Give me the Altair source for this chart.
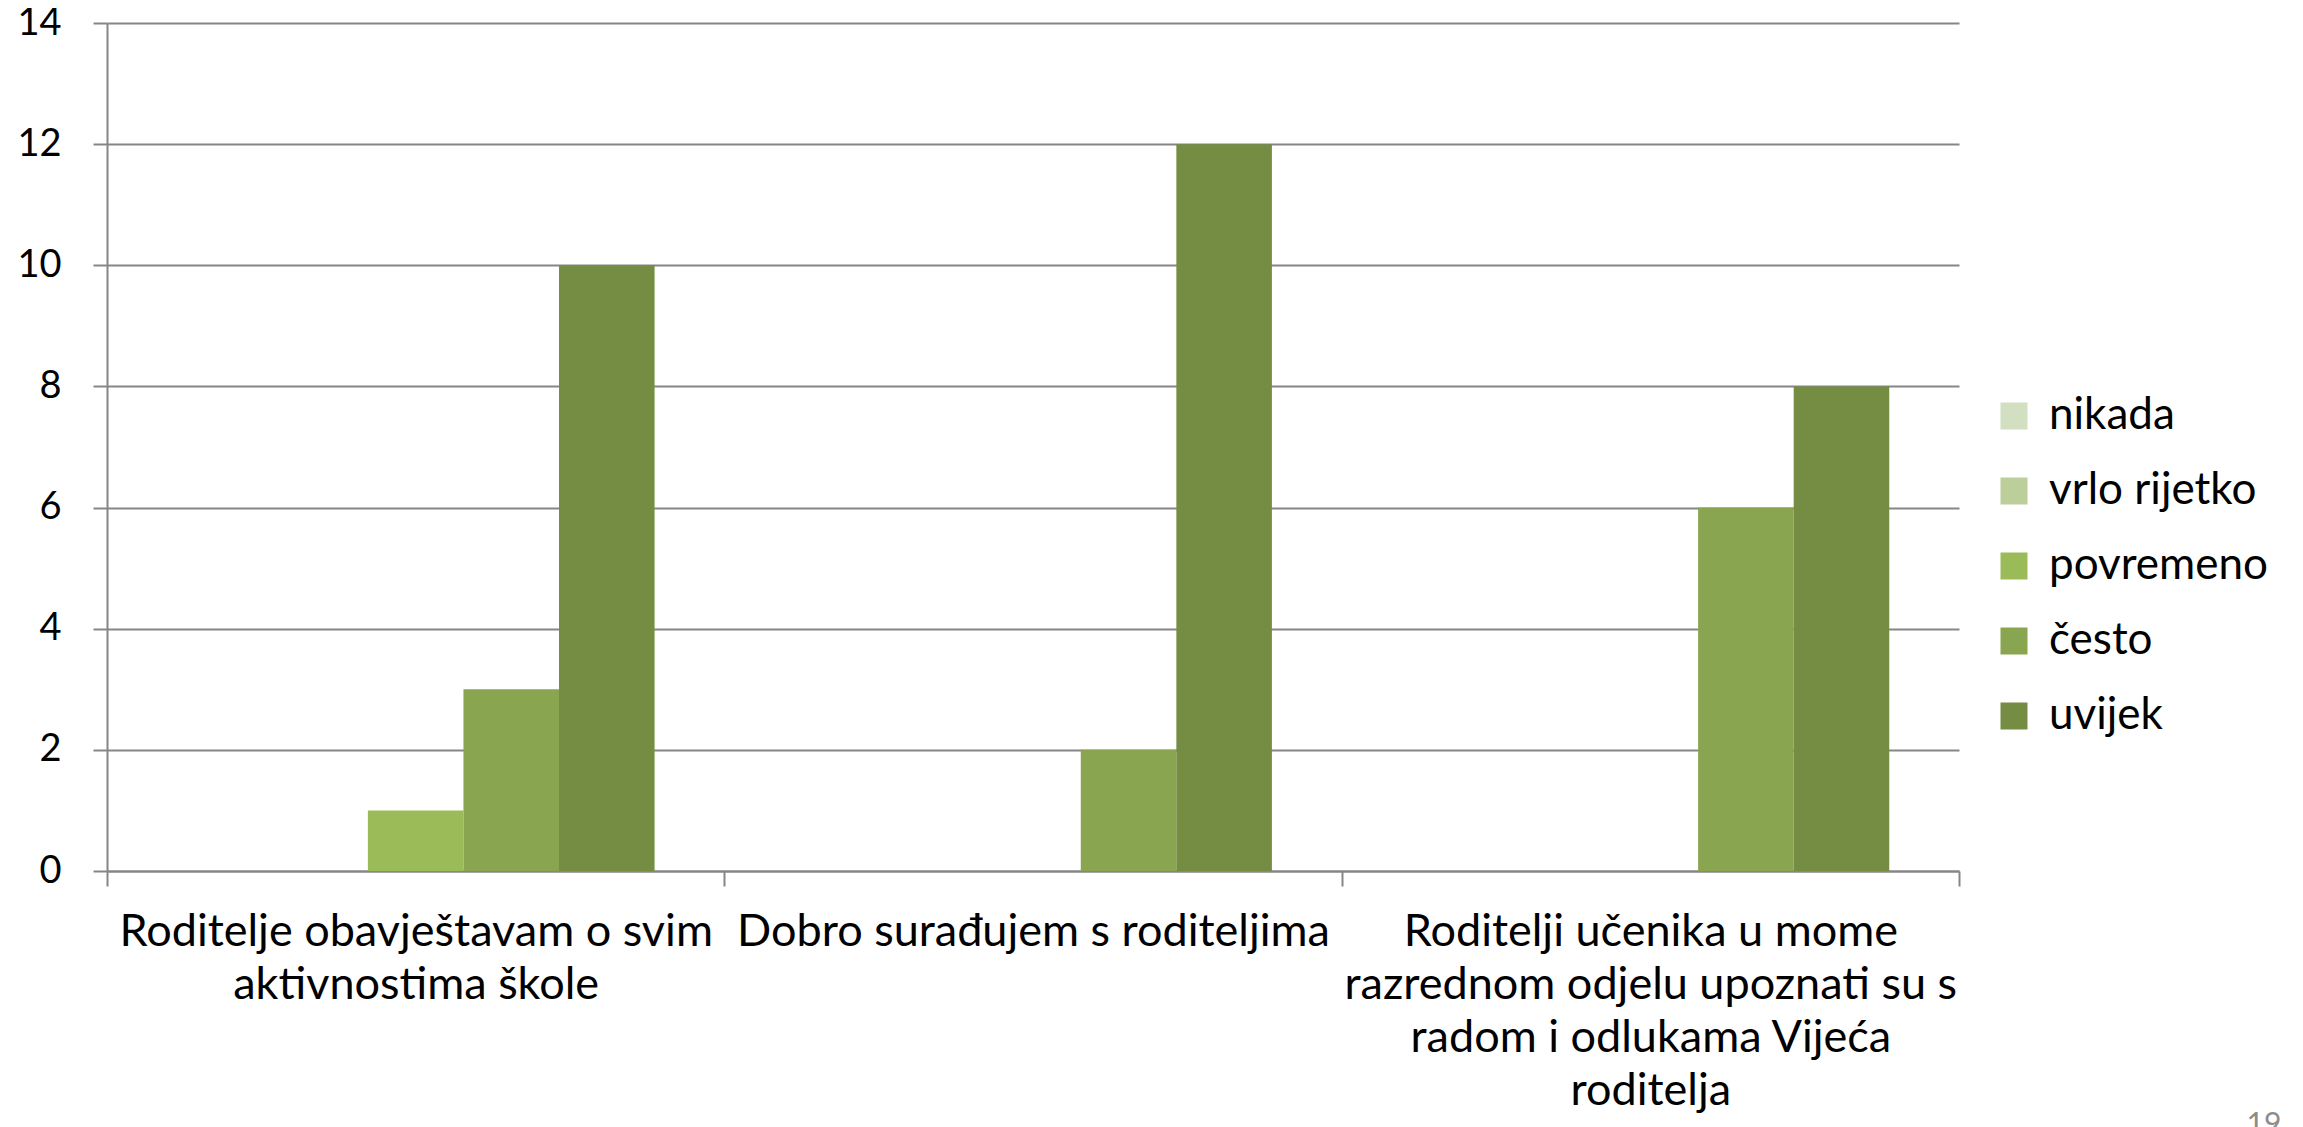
import altair as alt
import pandas as pd

categories = [
    "Roditelje obavještavam o svim aktivnostima škole",
    "Dobro surađujem s roditeljima",
    "Roditelji učenika u mome razrednom odjelu upoznati su s radom i odlukama Vijeća roditelja",
]
category_lines = [
    ["Roditelje obavještavam o svim", "aktivnostima škole"],
    ["Dobro surađujem s roditeljima"],
    ["Roditelji učenika u mome", "razrednom odjelu upoznati su s", "radom i odlukama Vijeća", "roditelja"],
]
series = ["nikada", "vrlo rijetko", "povremeno", "često", "uvijek"]
colors = ["#D3DFC1", "#BCCF9A", "#9BBB59", "#8AA54F", "#758D42"]
values = {
    "nikada": [0, 0, 0],
    "vrlo rijetko": [0, 0, 0],
    "povremeno": [1, 0, 0],
    "često": [3, 2, 6],
    "uvijek": [10, 12, 8],
}
y_ticks = [0, 2, 4, 6, 8, 10, 12, 14]

rows = []
for s in series:
    for c, v in zip(categories, values[s]):
        rows.append({"kategorija": c, "odgovor": s, "broj": v})
df = pd.DataFrame(rows)

def js(s):
    return "'" + s.replace("'", "\\'") + "'"

label_expr = ""
for c, lines in zip(categories, category_lines):
    label_expr += f"datum.value == {js(c)} ? [{', '.join(js(l) for l in lines)}] : "
label_expr += "datum.label"

FONT = "Lato"
FS = 45
GRID = "#868686"

bars = alt.Chart(df).mark_bar().encode(
    x=alt.X(
        "kategorija:N",
        sort=categories,
        scale=alt.Scale(paddingInner=0, paddingOuter=0),
        axis=alt.Axis(
            title=None,
            labelAngle=0,
            labelExpr=label_expr,
            labelFont=FONT,
            labelFontSize=FS,
            labelColor="black",
            labelLineHeight=53,
            labelPadding=23,
            labelLimit=0,
            domainColor=GRID,
            domainWidth=2,
            tickColor=GRID,
            tickWidth=2,
            tickSize=15,
            tickBand="extent",
            grid=False,
        ),
    ),
    xOffset=alt.XOffset("odgovor:N", sort=series,
                        scale=alt.Scale(domain=series, paddingInner=0, paddingOuter=0.73)),
    y=alt.Y(
        "broj:Q",
        scale=alt.Scale(domain=[0, 14], nice=False),
        axis=alt.Axis(
            title=None,
            values=y_ticks,
            labelFont=FONT,
            labelFontSize=38,
            labelColor="black",
            labelPadding=32,
            domainColor=GRID,
            domainWidth=2,
            tickColor=GRID,
            tickWidth=2,
            tickSize=14,
            gridColor=GRID,
            gridWidth=2,
        ),
    ),
    color=alt.Color(
        "odgovor:N",
        sort=series,
        scale=alt.Scale(domain=series, range=colors),
        legend=alt.Legend(
            title=None,
            orient="none",
            legendX=1885,
            legendY=371,
            symbolType="square",
            symbolSize=729,
            symbolStrokeWidth=0,
            labelFont=FONT,
            labelFontSize=44,
            labelColor="black",
            labelOffset=13,
            labelLimit=0,
            rowPadding=31,
        ),
    ),
)

page_no = alt.Chart(pd.DataFrame({"t": ["19"]})).mark_text(
    font=FONT, fontSize=30, color="#8C8C8C", align="center", baseline="alphabetic"
).encode(text="t:N", x=alt.value(2157), y=alt.value(1111))

chart = alt.layer(bars, page_no).properties(
    width=1852,
    height=848,
    padding={"left": 99, "top": 15, "right": 336, "bottom": 262},
    autosize=alt.AutoSizeParams(type="none"),
).configure_view(stroke=None).configure_axis(domainCap="butt")

chart.save("out.html", embed_options={"renderer": "svg", "actions": False})
